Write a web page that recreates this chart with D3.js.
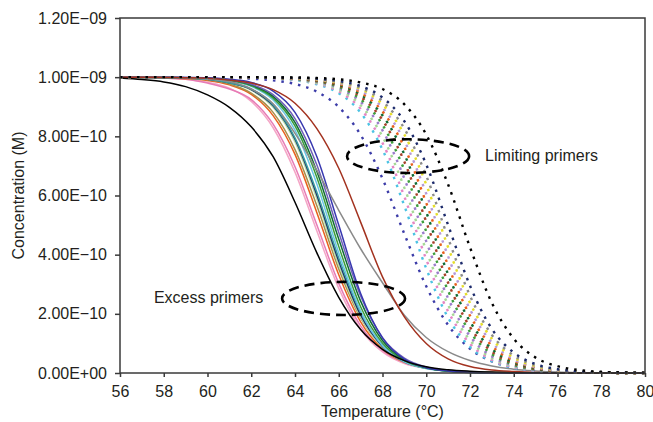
<!DOCTYPE html>
<html>
<head>
<meta charset="utf-8">
<script src="https://cdn.jsdelivr.net/npm/d3@7"></script>
<style>
body { margin: 0; background: #fff; }
text { font-family: "Liberation Sans", Arial, sans-serif; fill: #231f20; }
</style>
</head>
<body>
<div id="chart"></div>
<script>
// melting curves, concentration in units of 1E-10 M, read at every degree
var temps = [56,57,58,59,60,61,62,63,64,65,66,67,68,69,70,71,72,73,74,75,76,77,78,79,80];

// excess primers (solid)
var exBlack     = [9.97,9.92,9.84,9.68,9.40,8.98,8.32,7.31,5.77,4.06,2.56,1.47,0.80,0.42,0.21,0.11,0.06,0.03,0.01,0.01,0,0,0,0,0];
var exPink      = [9.99,9.99,9.97,9.93,9.83,9.63,9.18,8.29,6.79,4.80,2.86,1.48,0.71,0.32,0.16,0.08,0.04,0.02,0.01,0,0,0,0,0,0];
var exHotPink   = [9.99,9.99,9.97,9.93,9.80,9.60,9.24,8.41,6.97,5.00,3.03,1.59,0.76,0.35,0.17,0.08,0.04,0.02,0.01,0,0,0,0,0,0];
var exOrange    = [10,9.99,9.98,9.95,9.89,9.74,9.42,8.70,7.39,5.42,3.32,1.73,0.81,0.36,0.17,0.08,0.04,0.02,0.01,0,0,0,0,0,0];
var exOlive     = [10,9.99,9.98,9.96,9.91,9.77,9.46,8.81,7.55,5.65,3.52,1.86,0.88,0.38,0.17,0.08,0.04,0.02,0.01,0,0,0,0,0,0];
var exPaleGreen = [10,9.99,9.99,9.97,9.93,9.82,9.56,8.98,7.81,5.89,3.66,1.90,0.87,0.37,0.16,0.08,0.04,0.02,0.01,0,0,0,0,0,0];
var exNavy      = [10,9.99,9.99,9.97,9.93,9.81,9.58,9.03,7.90,6.01,3.78,1.96,0.90,0.38,0.16,0.07,0.03,0.01,0.01,0,0,0,0,0,0];
var exTeal      = [10,9.99,9.99,9.97,9.93,9.81,9.60,9.06,7.95,6.11,3.89,2.05,0.94,0.40,0.17,0.07,0.03,0.01,0.01,0,0,0,0,0,0];
var exLightBlue = [10,10,9.99,9.98,9.95,9.87,9.69,9.23,8.21,6.39,4.06,2.10,0.92,0.38,0.15,0.06,0.02,0.01,0,0,0,0,0,0,0];
var exGreen     = [10,10,9.99,9.98,9.96,9.89,9.71,9.29,8.35,6.61,4.28,2.24,1.01,0.42,0.17,0.06,0.02,0.01,0,0,0,0,0,0,0];
var exDarkGreen = [10,10,9.99,9.98,9.96,9.90,9.74,9.35,8.47,6.81,4.53,2.43,1.10,0.45,0.18,0.07,0.03,0.01,0,0,0,0,0,0,0];
var exPurple    = [10,10,9.99,9.99,9.96,9.91,9.76,9.41,8.60,7.03,4.75,2.60,1.19,0.50,0.20,0.08,0.03,0.01,0,0,0,0,0,0,0];
var exBlue      = [10,10,10,9.99,9.98,9.93,9.82,9.53,8.81,7.31,5.00,2.69,1.19,0.47,0.18,0.07,0.02,0.01,0,0,0,0,0,0,0];
var exGray      = [10,10,9.99,9.98,9.94,9.85,9.60,9.10,8.10,6.85,5.50,4.20,3.05,1.95,1.20,0.72,0.42,0.24,0.13,0.07,0.03,0.01,0,0,0];
var exBrown     = [10,10,9.99,9.98,9.96,9.90,9.80,9.58,9.12,8.26,6.92,5.10,3.25,1.90,1.00,0.48,0.22,0.10,0.05,0.02,0.01,0,0,0,0];

// limiting primers (dotted)
var limViolet    = [10,10,10,10,9.99,9.98,9.95,9.89,9.77,9.51,8.99,8.05,6.57,4.70,2.93,1.62,0.82,0.39,0.18,0.09,0.04,0.02,0.01,0,0];
var limCyan      = [10,10,10,10,10,9.99,9.99,9.96,9.90,9.76,9.46,8.80,7.55,5.65,3.53,1.87,0.88,0.40,0.17,0.07,0.03,0.01,0.01,0,0];
var limPink      = [10,10,10,10,10,9.99,9.99,9.96,9.92,9.79,9.52,8.93,7.78,5.96,3.84,2.08,0.99,0.44,0.19,0.08,0.03,0.01,0.01,0,0];
var limLightGrn  = [10,10,10,10,10,10,9.99,9.97,9.92,9.81,9.58,9.05,7.99,6.26,4.14,2.30,1.11,0.50,0.22,0.09,0.04,0.02,0.01,0,0];
var limPurple    = [10,10,10,10,10,10,9.99,9.97,9.93,9.84,9.63,9.16,8.20,6.57,4.45,2.52,1.24,0.56,0.25,0.10,0.04,0.02,0.01,0,0];
var limGreen     = [10,10,10,10,10,10,9.99,9.98,9.94,9.86,9.67,9.25,8.39,6.86,4.78,2.78,1.39,0.64,0.28,0.12,0.05,0.02,0.01,0,0];
var limBrown     = [10,10,10,10,10,10,9.99,9.98,9.95,9.87,9.71,9.34,8.55,7.14,5.11,3.05,1.55,0.72,0.32,0.14,0.05,0.02,0.01,0,0];
var limDarkGrn   = [10,10,10,10,10,10,9.99,9.98,9.96,9.89,9.74,9.41,8.71,7.39,5.44,3.33,1.74,0.81,0.36,0.16,0.06,0.02,0.01,0,0];
var limOrange    = [10,10,10,10,10,10,9.99,9.98,9.96,9.90,9.77,9.48,8.84,7.63,5.75,3.63,1.94,0.92,0.41,0.18,0.07,0.03,0.01,0,0];
var limLavender  = [10,10,10,10,10,10,9.99,9.99,9.96,9.92,9.80,9.54,8.97,7.85,6.06,3.94,2.15,1.03,0.46,0.20,0.08,0.03,0.01,0.01,0];
var limYellow    = [10,10,10,10,10,10,10,9.99,9.97,9.93,9.82,9.60,9.08,8.06,6.37,4.25,2.37,1.16,0.52,0.23,0.10,0.04,0.02,0.01,0];
var limGray      = [10,10,10,10,10,10,10,9.99,9.97,9.94,9.84,9.64,9.19,8.26,6.67,4.56,2.61,1.29,0.59,0.26,0.11,0.04,0.02,0.01,0];
var limNavy      = [10,10,10,10,10,10,10,9.99,9.98,9.95,9.87,9.70,9.31,8.51,7.05,5.00,2.95,1.49,0.69,0.30,0.13,0.05,0.02,0.01,0];
var limBlack     = [10,10,10,10,10,10,10,9.99,9.99,9.97,9.93,9.82,9.60,9.08,8.06,6.37,4.25,2.37,1.16,0.52,0.23,0.10,0.04,0.02,0.01];

var excessSeries = [exPink, exHotPink, exOrange, exOlive, exPaleGreen, exNavy, exTeal, exLightBlue,
  exGreen, exDarkGreen, exPurple, exBlue, exGray, exBrown, exBlack];
var excessColors = ["#f4a6c6", "#e77bb5", "#e8601c", "#a8904a", "#b5dfa5", "#1c2a6b", "#3a9e9e", "#6cc5e6",
  "#3a9c3a", "#0f6b35", "#7060b8", "#3838b0", "#8a8a8a", "#a3321f", "#000000"];

var limitingSeries = [limViolet, limCyan, limPink, limLightGrn, limPurple, limGreen, limBrown, limDarkGrn,
  limOrange, limLavender, limYellow, limGray, limNavy, limBlack];
var limitingColors = ["#3c3ca8", "#4cc3e3", "#e486c4", "#a6d896", "#9b7ccb", "#3d9e3d", "#a8402a", "#0f6b35",
  "#e8601c", "#b49ad8", "#e6de2a", "#8c8c8c", "#1c2a6b", "#000000"];

var xTicks = [56,58,60,62,64,66,68,70,72,74,76,78,80];
var yTicks = [0,2,4,6,8,10,12];
var yTickLabels = ["0.00E+00","2.00E\u221210","4.00E\u221210","6.00E\u221210","8.00E\u221210","1.00E\u221209","1.20E\u221209"];

// dashed ellipses: centre temp, centre conc, half width (deg), half height (1E-10)
var ellipseT  = [69.17, 66.22];
var ellipseC  = [7.33, 2.52];
var ellipseRx = [2.79, 2.81];
var ellipseRy = [0.57, 0.56];
var noteText = ["Limiting primers", "Excess primers"];
var noteT = [72.69, 57.55];
var noteC = [7.16, 2.36];

var width = 653, height = 422;
// plot box (global "top" is taken by window.top)
var plotL = 120, plotR = 645, plotT = 18, plotB = 373;

var svg = d3.select("#chart")
  .append("svg")
  .attr("width", width)
  .attr("height", height);

svg.append("rect")
  .attr("width", width)
  .attr("height", height)
  .attr("fill", "#fff");

var x = d3.scaleLinear().domain([56, 80]).range([plotL, plotR]);
var y = d3.scaleLinear().domain([0, 12]).range([plotB, plotT]);

var line = d3.line()
  .x(function(d, i) { return x(temps[i]); })
  .y(function(d) { return y(d); })
  .curve(d3.curveMonotoneX);

// solid lines first
svg.append("g")
  .selectAll("path")
  .data(excessSeries)
  .enter()
  .append("path")
  .attr("d", line)
  .attr("fill", "none")
  .attr("stroke", function(d, i) { return excessColors[i]; })
  .attr("stroke-width", 1.5);

svg.append("g")
  .selectAll("path")
  .data(limitingSeries)
  .enter()
  .append("path")
  .attr("d", line)
  .attr("fill", "none")
  .attr("stroke", function(d, i) { return limitingColors[i]; })
  .attr("stroke-width", 2.4)
  .attr("stroke-dasharray", "2.5,6");

// frame
svg.append("rect")
  .attr("x", plotL)
  .attr("y", plotT)
  .attr("width", plotR - plotL)
  .attr("height", plotB - plotT)
  .attr("fill", "none")
  .attr("stroke", "#3a3a3a")
  .attr("stroke-width", 1.5);

var xAxis = svg.append("g")
  .attr("transform", "translate(0," + plotB + ")")
  .call(d3.axisBottom(x).tickValues(xTicks).tickSize(4).tickPadding(9).tickFormat(d3.format("d")));
var yAxis = svg.append("g")
  .attr("transform", "translate(" + plotL + ",0)")
  .call(d3.axisLeft(y).tickValues(yTicks).tickSize(5).tickPadding(8)
    .tickFormat(function(d, i) { return yTickLabels[i]; }));

[xAxis, yAxis].forEach(function(a) {
  a.select(".domain").remove();
  a.selectAll("line").attr("stroke", "#3a3a3a").attr("stroke-width", 1.5);
  a.selectAll("text")
    .attr("font-family", "Liberation Sans, Arial, sans-serif")
    .attr("font-size", 16)
    .attr("fill", "#231f20");
});

// annotations
svg.append("g")
  .selectAll("ellipse")
  .data(ellipseT)
  .enter()
  .append("ellipse")
  .attr("cx", function(d) { return x(d); })
  .attr("cy", function(d, i) { return y(ellipseC[i]); })
  .attr("rx", function(d, i) { return x(56 + ellipseRx[i]) - x(56); })
  .attr("ry", function(d, i) { return y(0) - y(ellipseRy[i]); })
  .attr("fill", "none")
  .attr("stroke", "#000")
  .attr("stroke-width", 2.6)
  .attr("stroke-dasharray", "10,6");

svg.append("g")
  .selectAll("text")
  .data(noteText)
  .enter()
  .append("text")
  .attr("x", function(d, i) { return x(noteT[i]); })
  .attr("y", function(d, i) { return y(noteC[i]); })
  .attr("font-size", 16)
  .text(function(d) { return d; });

// axis titles
svg.append("text")
  .attr("x", (plotL + plotR) / 2)
  .attr("y", 417)
  .attr("text-anchor", "middle")
  .attr("font-size", 16)
  .text("Temperature (\u00B0C)");

svg.append("text")
  .attr("transform", "translate(24," + (plotT + plotB) / 2 + ") rotate(-90)")
  .attr("text-anchor", "middle")
  .attr("font-size", 16)
  .text("Concentration (M)");
</script>
</body>
</html>
